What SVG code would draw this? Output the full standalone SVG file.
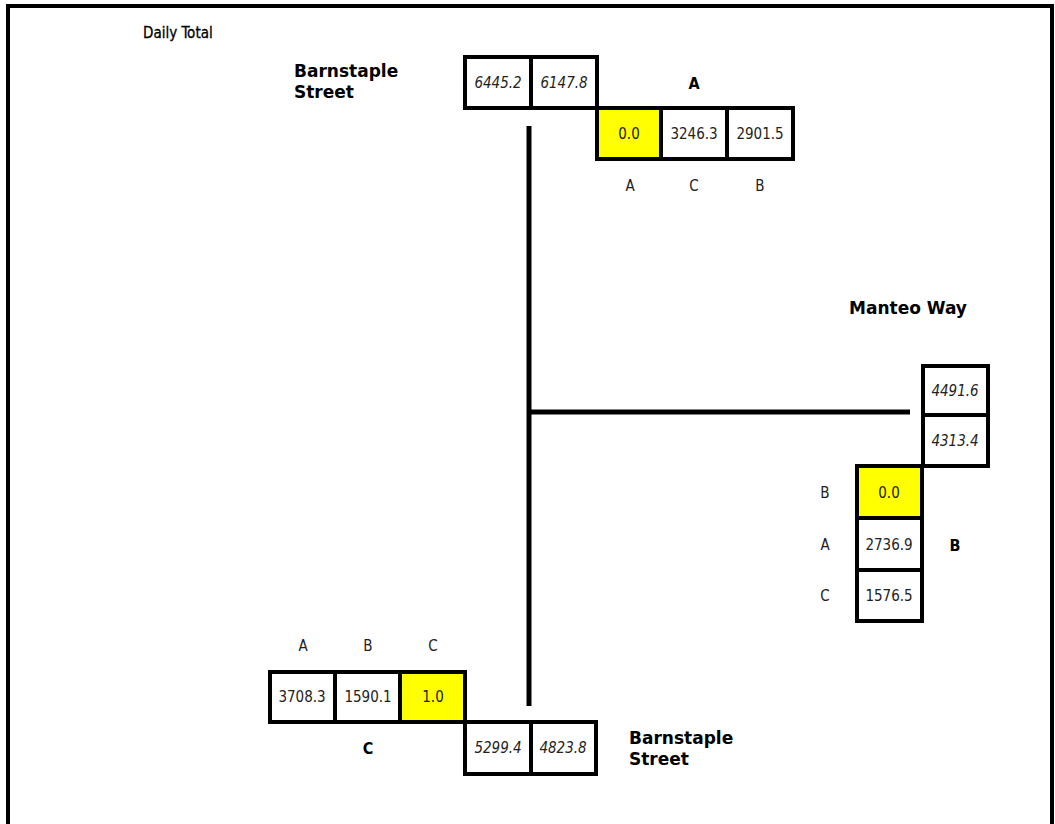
<svg xmlns="http://www.w3.org/2000/svg" width="1055" height="824" viewBox="0 0 1055 824">
<style>
.frame{fill:none;stroke:#000;stroke-width:4}
.cell{fill:#fff;stroke:#000;stroke-width:4}
.hi{fill:#ffff00;stroke:#000;stroke-width:4}
.road{stroke:#000;stroke-width:5;fill:none}
.num{font-family:"Liberation Sans Narrow","DejaVu Sans Condensed","Liberation Sans",sans-serif;font-size:15px;fill:#222;text-anchor:middle;dominant-baseline:central}
.it{font-style:italic}
.lbl{font-family:"Liberation Sans Narrow","DejaVu Sans Condensed","Liberation Sans",sans-serif;font-size:15px;fill:#222;text-anchor:middle;dominant-baseline:central}
.blbl{font-family:"Liberation Sans Narrow","DejaVu Sans Condensed","Liberation Sans",sans-serif;font-size:16px;font-weight:bold;fill:#000;text-anchor:middle;dominant-baseline:central}
.street{font-family:"DejaVu Sans",Verdana,sans-serif;font-size:17px;font-weight:bold;fill:#000}
.title{font-family:"Liberation Sans Narrow","DejaVu Sans Condensed","Liberation Sans",sans-serif;font-size:15px;fill:#000;stroke:#000;stroke-width:0.3}
</style>
<rect width="1055" height="824" fill="#fff"/>
<rect class="frame" x="8" y="6" width="1044" height="840"/>
<text class="title" x="143" y="38">Daily Total</text>
<g id="connectors">
<line class="road" x1="529" y1="126" x2="529" y2="706"/>
<line class="road" x1="529" y1="412" x2="910" y2="412"/>
</g>
<g id="north">
<text class="street" x="294" y="77">Barnstaple</text>
<text class="street" x="294" y="98">Street</text>
<rect class="cell" x="465" y="57" width="66" height="51"/>
<rect class="cell" x="531" y="57" width="66" height="51"/>
<text class="num it" x="498" y="83">6445.2</text>
<text class="num it" x="564" y="83">6147.8</text>
<text class="blbl" x="694" y="83">A</text>
<rect class="hi" x="597" y="108" width="64" height="51"/>
<rect class="cell" x="661" y="108" width="66" height="51"/>
<rect class="cell" x="727" y="108" width="66" height="51"/>
<text class="num" x="629" y="134">0.0</text>
<text class="num" x="694" y="134">3246.3</text>
<text class="num" x="760" y="134">2901.5</text>
<text class="lbl" x="630" y="186">A</text>
<text class="lbl" x="694" y="186">C</text>
<text class="lbl" x="760" y="186">B</text>
</g>
<g id="east">
<text class="street" x="908" y="314" text-anchor="middle">Manteo Way</text>
<rect class="cell" x="923" y="366" width="65" height="49"/>
<rect class="cell" x="923" y="415" width="65" height="51"/>
<text class="num it" x="955" y="391">4491.6</text>
<text class="num it" x="955" y="441">4313.4</text>
<rect class="hi" x="857" y="466" width="65" height="52"/>
<rect class="cell" x="857" y="518" width="65" height="52"/>
<rect class="cell" x="857" y="570" width="65" height="51"/>
<text class="num" x="889" y="493">0.0</text>
<text class="num" x="889" y="545">2736.9</text>
<text class="num" x="889" y="596">1576.5</text>
<text class="lbl" x="825" y="493">B</text>
<text class="lbl" x="825" y="545">A</text>
<text class="lbl" x="825" y="596">C</text>
<text class="blbl" x="955" y="545">B</text>
</g>
<g id="south">
<text class="lbl" x="303" y="646">A</text>
<text class="lbl" x="368" y="646">B</text>
<text class="lbl" x="433" y="646">C</text>
<rect class="cell" x="270" y="672" width="65" height="50"/>
<rect class="cell" x="335" y="672" width="65" height="50"/>
<rect class="hi" x="400" y="672" width="65" height="50"/>
<text class="num" x="302" y="697">3708.3</text>
<text class="num" x="368" y="697">1590.1</text>
<text class="num" x="433" y="697">1.0</text>
<text class="blbl" x="368" y="748">C</text>
<rect class="cell" x="465" y="722" width="66" height="52"/>
<rect class="cell" x="531" y="722" width="65" height="52"/>
<text class="num it" x="498" y="748">5299.4</text>
<text class="num it" x="563" y="748">4823.8</text>
<text class="street" x="629" y="744">Barnstaple</text>
<text class="street" x="629" y="765">Street</text>
</g>
</svg>
